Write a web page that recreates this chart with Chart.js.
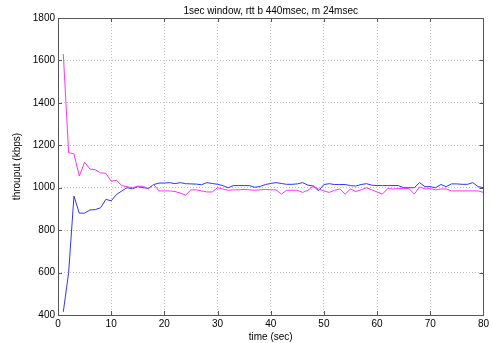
<!DOCTYPE html>
<html>
<head>
<meta charset="utf-8">
<script src="https://cdn.jsdelivr.net/npm/chart.js@4.4.0/dist/chart.umd.min.js"></script>
<style>
  body { margin: 0; background: #fff; }
  canvas { display: block; }
</style>
</head>
<body>
<canvas id="chart_tput" width="492" height="343"></canvas>
<script>
// throughput traces, one sample per second
var timeSec = [1,2,3,4,5,6,7,8,9,10,11,12,13,14,15,16,17,18,19,20,
  21,22,23,24,25,26,27,28,29,30,31,32,33,34,35,36,37,38,39,40,
  41,42,43,44,45,46,47,48,49,50,51,52,53,54,55,56,57,58,59,60,
  61,62,63,64,65,66,67,68,69,70,71,72,73,74,75,76,77,78,79,80];

var blueKbps = [415,600,960,880,880,895,897,905,945,938,
  968,985,1000,995,1005,1000,997,1015,1022,1022,
  1024,1019,1024,1019,1018,1017,1014,1024,1020,1016,
  1010,1000,1010,1010,1010,1010,1002,1006,1015,1020,
  1024,1020,1016,1016,1018,1024,1012,1008,986,1015,
  1019,1015,1015,1015,1010,1008,1015,1019,1012,1010,
  1010,1010,1010,1010,1000,1000,1000,1024,1005,1005,
  1000,1015,1005,1018,1018,1016,1016,1024,1005,1000];

var magentaKbps = [1630,1165,1160,1055,1120,1088,1085,1070,1068,1030,
  1035,1010,1005,1000,1007,1007,995,1015,985,985,
  985,982,975,965,990,990,985,980,980,1000,
  994,988,990,990,992,990,988,990,992,990,
  990,970,988,988,988,978,988,1008,994,985,
  978,988,994,970,994,982,990,1000,990,980,
  970,996,994,996,996,996,970,1004,994,996,
  990,994,994,985,985,985,985,985,985,978];

var xTicks = [0,10,20,30,40,50,60,70,80];
var yTicks = [400,600,800,1000,1200,1400,1600,1800];

function toPoints(vals) {
  var pts = [];
  vals.forEach(function(v, i) { pts.push({x: timeSec[i], y: v}); });
  return pts;
}

// box around plot + inward tick marks (matlab style)
var boxPlugin = {
  id: 'boxTicks',
  afterDraw: function(chart) {
    var ctx = chart.ctx, a = chart.chartArea;
    var xs = chart.scales.x, ys = chart.scales.y;
    ctx.save();
    ctx.strokeStyle = '#555';
    ctx.lineWidth = 1;
    ctx.strokeRect(Math.round(a.left) + 0.5, Math.round(a.top) + 0.5,
      Math.round(a.right - a.left), Math.round(a.bottom - a.top));
    ctx.beginPath();
    xTicks.forEach(function(t) {
      var px = Math.round(xs.getPixelForValue(t)) + 0.5;
      ctx.moveTo(px, a.bottom); ctx.lineTo(px, a.bottom - 4);
      ctx.moveTo(px, a.top); ctx.lineTo(px, a.top + 4);
    });
    yTicks.forEach(function(t) {
      var py = Math.round(ys.getPixelForValue(t)) + 0.5;
      ctx.moveTo(a.left, py); ctx.lineTo(a.left + 4, py);
      ctx.moveTo(a.right, py); ctx.lineTo(a.right - 4, py);
    });
    ctx.stroke();
    ctx.restore();
  }
};

var fontSpec = {family: 'Liberation Sans, Arial, sans-serif', size: 10};
function plainLabel(v) { return String(v); }

var ctxTput = document.getElementById('chart_tput').getContext('2d');
var chartTput = new Chart(ctxTput, {
  type: 'line',
  data: {
    datasets: [{
      label: 'm',
      data: toPoints(magentaKbps),
      borderColor: '#ff33ff',
      borderWidth: 1,
      pointRadius: 0,
      tension: 0
    }, {
      label: 'b',
      data: toPoints(blueKbps),
      borderColor: '#3333ff',
      borderWidth: 1,
      pointRadius: 0,
      tension: 0
    }]
  },
  options: {
    responsive: false,
    animation: false,
    layout: {padding: {left: 0, right: 7, top: 0, bottom: 0}},
    plugins: {
      legend: {display: false},
      tooltip: {enabled: false},
      title: {
        display: true,
        fullSize: false,
        text: '1sec window, rtt b 440msec, m 24msec',
        color: '#000',
        font: {family: fontSpec.family, size: 10, weight: 'normal'},
        padding: {top: 5, bottom: 1}
      }
    },
    scales: {
      x: {
        type: 'linear',
        min: 0, max: 80,
        afterFit: function(s) { s.height = 28; },
        afterBuildTicks: function(s) { s.ticks = xTicks.map(function(v) { return {value: v}; }); },
        ticks: {color: '#000', font: fontSpec, padding: 3, maxRotation: 0, callback: plainLabel},
        grid: {color: '#c0c0c0', drawTicks: false},
        border: {display: false, dash: [1, 2]},
        title: {display: true, text: 'time (sec)', color: '#000', font: fontSpec, padding: {top: 2, bottom: 0}}
      },
      y: {
        min: 400, max: 1800,
        afterFit: function(s) { s.width = 58; },
        afterBuildTicks: function(s) { s.ticks = yTicks.map(function(v) { return {value: v}; }); },
        ticks: {color: '#000', font: fontSpec, padding: 3, callback: plainLabel},
        grid: {color: '#c0c0c0', drawTicks: false},
        border: {display: false, dash: [1, 2]},
        title: {display: true, text: 'throuput (kbps)', color: '#000', font: fontSpec, padding: {top: 11, bottom: 0}}
      }
    }
  },
  plugins: [boxPlugin]
});
</script>
</body>
</html>
